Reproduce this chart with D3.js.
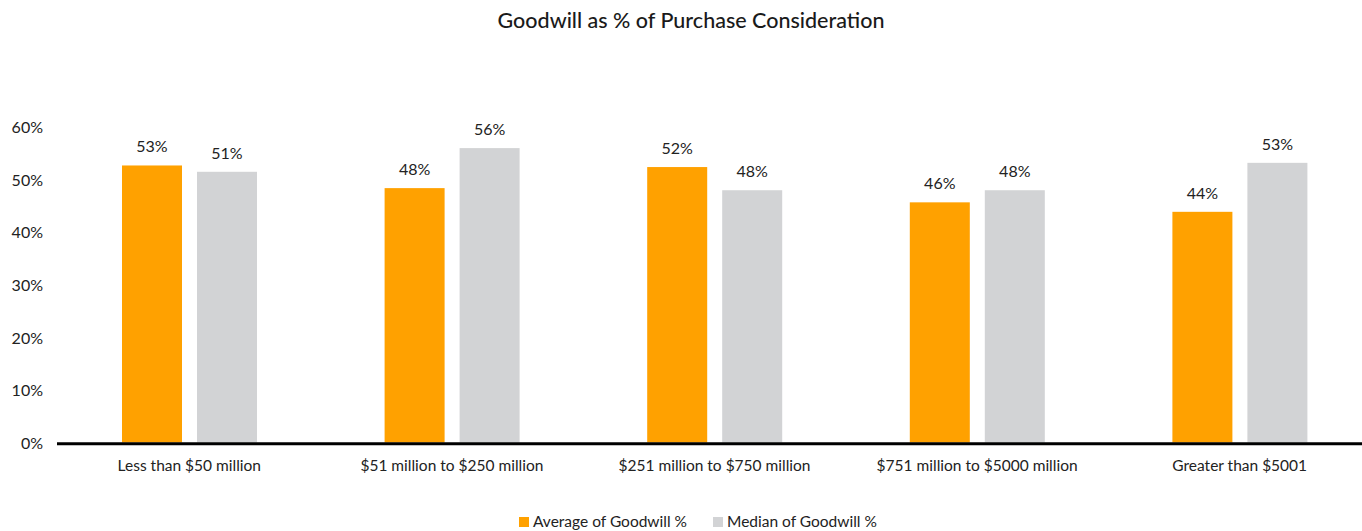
<!DOCTYPE html>
<html>
<head>
<meta charset="utf-8">
<script src="https://cdn.jsdelivr.net/npm/d3@7"></script>
<style>
  html, body { margin: 0; padding: 0; background: #fff; }
  svg { display: block; font-family: Lato, "Open Sans", sans-serif; }
</style>
</head>
<body>
<svg id="chart" width="1362" height="531"></svg>
<script>
// Deal size buckets
const categories = [
  "Less than $50 million",
  "$51 million to $250 million",
  "$251 million to $750 million",
  "$751 million to $5000 million",
  "Greater than $5001"
];
const seriesNames = ["Average of Goodwill %", "Median of Goodwill %"];
const averageGoodwill = [0.526, 0.483, 0.523, 0.456, 0.438];
const medianGoodwill  = [0.514, 0.559, 0.479, 0.479, 0.531];
const yTicks = [0, 0.1, 0.2, 0.3, 0.4, 0.5, 0.6];
const colors = ["#FFA100", "#D2D3D5"];

const svg = d3.select("#chart");
const W = 1362, H = 531;

const x = d3.scaleBand().domain(categories).range([58, 1371]).paddingInner(0).paddingOuter(0);
const sub = d3.scaleBand().domain(seriesNames).range([64, 199]).paddingInner(0.2).paddingOuter(0);
const y = d3.scaleLinear().domain([0, 0.6]).range([442.5, 126.5]);
const fmt = d3.format(".0%");

// Title
svg.append("text")
  .attr("x", 691).attr("y", 28)
  .attr("text-anchor", "middle")
  .attr("font-size", 21.5).attr("font-weight", 500)
  .attr("fill", "#1a1a1a")
  .text("Goodwill as % of Purchase Consideration");

// Y axis labels (no line)
const yAxis = d3.axisLeft(y).tickValues(yTicks).tickFormat(d3.format(".0%")).tickSize(0).tickPadding(0);
const yg = svg.append("g").attr("transform", "translate(43,1)").call(yAxis);
yg.select(".domain").remove();
yg.selectAll("text").attr("font-size", 16).attr("fill", "#222").attr("font-family", "Lato, sans-serif");

// Bars
const series = [averageGoodwill, medianGoodwill];
const groups = svg.append("g").selectAll("g")
  .data(categories)
  .join("g")
  .attr("transform", d => `translate(${x(d)},0)`);

seriesNames.forEach((name, si) => {
  groups.append("rect")
    .attr("x", sub(name))
    .attr("width", sub.bandwidth())
    .attr("y", (d, i) => y(series[si][i]))
    .attr("height", (d, i) => y(0) - y(series[si][i]))
    .attr("fill", colors[si]);
  groups.append("text")
    .attr("x", sub(name) + sub.bandwidth() / 2)
    .attr("y", (d, i) => y(series[si][i]) - 13)
    .attr("text-anchor", "middle")
    .attr("font-size", 16)
    .attr("fill", "#222")
    .text((d, i) => fmt(series[si][i]));
});

// X axis
const xAxis = d3.axisBottom(x).tickSize(0).tickPadding(17);
const xg = svg.append("g").attr("transform", `translate(0,${y(0)})`).call(xAxis);
xg.select(".domain").remove();
xg.selectAll("text").attr("font-size", 15.5).attr("fill", "#222").attr("font-family", "Lato, sans-serif");
svg.append("line")
  .attr("x1", 57).attr("x2", W)
  .attr("y1", y(0) + 1.2).attr("y2", y(0) + 1.2)
  .attr("stroke", "#000").attr("stroke-width", 3);

// Legend
const legendX = [519, 713];
const lg = svg.append("g").selectAll("g").data(seriesNames).join("g")
  .attr("transform", (d, i) => `translate(${legendX[i]},517)`);
lg.append("rect").attr("width", 10).attr("height", 10).attr("fill", (d, i) => colors[i]);
lg.append("text").attr("x", 14).attr("y", 10)
  .attr("font-size", 15.5).attr("fill", "#222").text(d => d);
</script>
</body>
</html>
